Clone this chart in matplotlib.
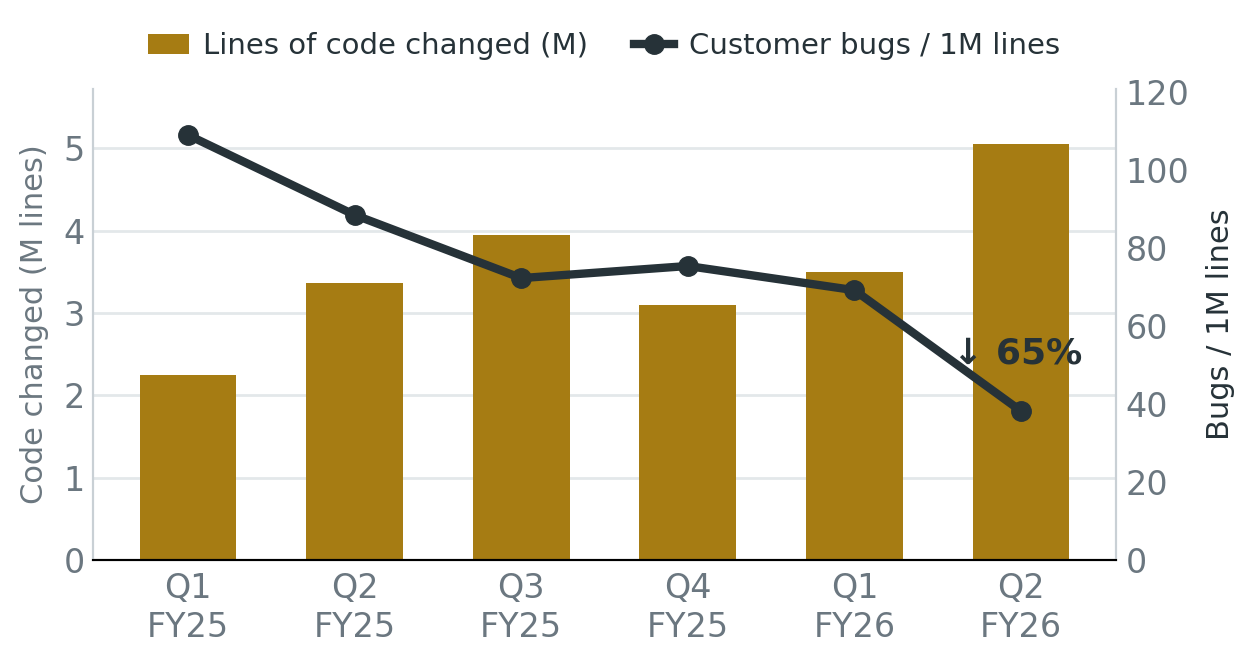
import matplotlib
matplotlib.use("Agg")
import matplotlib.pyplot as plt
from matplotlib.lines import Line2D
from matplotlib.patches import Patch

categories = ["Q1\nFY25", "Q2\nFY25", "Q3\nFY25", "Q4\nFY25", "Q1\nFY26", "Q2\nFY26"]
loc_changed = [2.25, 3.36, 3.95, 3.10, 3.50, 5.05]
bugs_per_m = [109, 88.5, 72.3, 75.4, 69.2, 38.2]
left_ticks = [0, 1, 2, 3, 4, 5]
right_ticks = [0, 20, 40, 60, 80, 100, 120]

BAR = "#A67C13"
LINE = "#263238"
TICK = "#6B7780"
GRID = "#E3E8EA"
SPINE = "#C9D0D5"

plt.rcParams['font.family'] = ['DejaVu Sans']
fig = plt.figure(figsize=(12.54, 6.63), dpi=100)
ax = fig.add_axes([93/1254, 1 - 560/663, (1116-93)/1254, (560-89)/663])
ax2 = ax.twinx()

x = list(range(len(categories)))
ax.bar(x, loc_changed, width=0.58, color=BAR, zorder=2)
ax.set_ylim(0, 5.72)
ax.set_xlim(-0.57, 5.57)
ax.set_yticks(left_ticks)
ax.yaxis.grid(True, color=GRID, linewidth=2, zorder=0)
ax.set_axisbelow(True)
ax.set_xticks(x)
ax.set_xticklabels(categories, fontsize=24, color=TICK, linespacing=1.2)
ax.tick_params(axis='x', length=0, labelsize=24, labelcolor=TICK, pad=9)
ax.tick_params(axis='y', length=0, labelsize=24, labelcolor=TICK, pad=6)
ax.set_ylabel("Code changed (M lines)", fontsize=22, color=TICK, labelpad=10)

ax2.plot(x, bugs_per_m, color=LINE, linewidth=6, marker='o', markersize=14, zorder=3,
         solid_capstyle='round')
ax2.set_ylim(0, 120.8)
ax2.set_yticks(right_ticks)
ax2.tick_params(axis='y', length=0, labelsize=24, labelcolor=TICK, pad=7)
ax2.set_ylabel("Bugs / 1M lines", fontsize=22, color=LINE, labelpad=12)

for a in (ax, ax2):
    a.spines['top'].set_visible(False)
    a.spines['left'].set_color(SPINE)
    a.spines['right'].set_color(SPINE)
    a.spines['left'].set_linewidth(1.5)
    a.spines['right'].set_linewidth(1.5)
    a.spines['bottom'].set_color('black')
    a.spines['bottom'].set_linewidth(1.5)

pct = round((1 - bugs_per_m[-1] / bugs_per_m[0]) * 100)
ax2.text(4.98, 53, f"↓ {pct}%", fontsize=26, fontweight='bold', color=LINE,
         ha='center', va='center', zorder=4)

handles = [Patch(facecolor=BAR, label="Lines of code changed (M)"),
           Line2D([0], [0], color=LINE, linewidth=6, marker='o', markersize=14,
                  label="Customer bugs / 1M lines")]
leg = fig.legend(handles=handles, loc='center', bbox_to_anchor=(604/1254, 1 - 46/663),
                 ncol=2, frameon=False, fontsize=21, handlelength=1.4,
                 columnspacing=1.55, handletextpad=0.5)
for t in leg.get_texts():
    t.set_color(LINE)

fig.savefig("out.png", dpi=100)
